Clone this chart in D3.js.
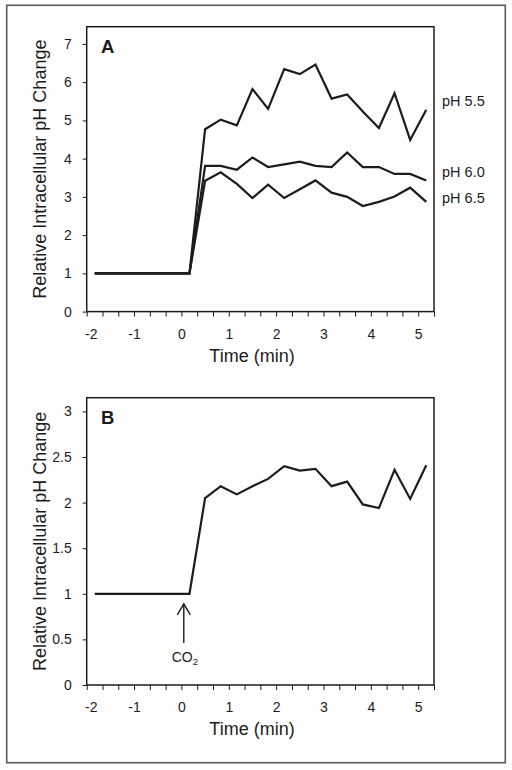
<!DOCTYPE html>
<html>
<head>
<meta charset="utf-8">
<script src="https://cdn.jsdelivr.net/npm/d3@7"></script>
<style>
  html, body { margin: 0; padding: 0; background: #fff; }
  svg { display: block; font-family: "Liberation Sans", Arial, Helvetica, sans-serif; }
</style>
</head>
<body>
<svg id="chart" width="512" height="770"></svg>
<script>
// ---------- data ----------
const times = [-1.83, 0.17, 0.5, 0.83, 1.17, 1.5, 1.83, 2.17, 2.5, 2.83, 3.17, 3.5, 3.83, 4.17, 4.5, 4.83, 5.17];
const ph55  = [1, 1, 4.77, 5.02, 4.87, 5.82, 5.30, 6.34, 6.21, 6.46, 5.57, 5.68, 5.23, 4.80, 5.71, 4.49, 5.28];
const ph60  = [1, 1, 3.81, 3.81, 3.71, 4.03, 3.78, 3.85, 3.92, 3.81, 3.78, 4.16, 3.78, 3.78, 3.60, 3.60, 3.43];
const ph65  = [1, 1, 3.42, 3.64, 3.34, 2.97, 3.32, 2.97, 3.20, 3.43, 3.11, 3.00, 2.76, 2.87, 3.01, 3.24, 2.87];
const co2   = [1, 1, 2.05, 2.18, 2.09, 2.18, 2.26, 2.40, 2.35, 2.37, 2.18, 2.23, 1.98, 1.94, 2.36, 2.04, 2.41];
const seriesNamesA = ["pH 5.5", "pH 6.0", "pH 6.5"];
const seriesLabelValuesA = [5.51, 3.64, 2.98];   // label anchor values (y) for right-hand labels
const yTicksA = [0, 1, 2, 3, 4, 5, 6, 7];
const yTicksB = [0, 0.5, 1, 1.5, 2, 2.5, 3];
const xTickLabels = [-2, -1, 0, 1, 2, 3, 4, 5];
const xMinorTicks = d3.range(0, 23).map(i => -2 + i / 3);
const co2Time = 0.05;
const co2ArrowRange = [0.46, 0.89];

// ---------- drawing ----------
const svg = d3.select("#chart");
const INK = "#1c1c1c";

svg.append("rect")
  .attr("x", 6.7).attr("y", 5.3).attr("width", 498.6).attr("height", 757.4)
  .attr("fill", "none").attr("stroke", "#5a5a5a").attr("stroke-width", 1.6);

function panel(top, bottom, yMax, yTicks, yFmt, letter) {
  const left = 86.7, right = 434;
  const x = d3.scaleLinear().domain([-2, 5 + 1/3]).range([left, right]);
  const y = d3.scaleLinear().domain([0, yMax]).range([bottom, top]);
  const g = svg.append("g");

  // x axis
  const xa = g.append("g").attr("transform", `translate(0,${bottom})`)
    .call(d3.axisBottom(x).tickValues(xMinorTicks).tickSize(5).tickSizeOuter(0).tickPadding(12)
      .tickFormat(d => {
        const r = Math.round(d);
        return (Math.abs(d - r) < 1e-6 && xTickLabels.includes(r)) ? String(r) : "";
      }));
  xa.select(".domain").remove();
  xa.selectAll("line").attr("stroke", INK).attr("stroke-width", 1);
  xa.selectAll("text").attr("font-size", 14).attr("fill", INK)
    .attr("font-family", "Liberation Sans, Arial, sans-serif")
    .attr("dx", d => Math.abs(d + 2) < 1e-6 ? 4 : 0);

  // y axis
  const ya = g.append("g").attr("transform", `translate(${left},0)`)
    .call(d3.axisLeft(y).tickValues(yTicks).tickSize(4).tickSizeOuter(0).tickPadding(11).tickFormat(yFmt));
  ya.select(".domain").remove();
  ya.selectAll("line").attr("stroke", INK).attr("stroke-width", 1);
  ya.selectAll("text").attr("font-size", 14).attr("fill", INK)
    .attr("font-family", "Liberation Sans, Arial, sans-serif");

  // frame box
  g.append("rect").attr("x", left).attr("y", top).attr("width", right - left).attr("height", bottom - top)
    .attr("fill", "none").attr("stroke", INK).attr("stroke-width", 1.5);

  // axis titles
  g.append("text").attr("x", 252).attr("y", bottom + 50).attr("text-anchor", "middle")
    .attr("font-size", 18).attr("fill", INK).text("Time (min)");
  g.append("text").attr("transform", `translate(46,${(top + bottom) / 2}) rotate(-90)`)
    .attr("text-anchor", "middle").attr("font-size", 18).attr("fill", INK)
    .text("Relative Intracellular pH Change");

  // panel letter
  g.append("text").attr("x", 101).attr("y", top + 26.5).attr("font-size", 18.5).attr("font-weight", "bold")
    .attr("fill", INK).text(letter);

  return {g, x, y};
}

const A = panel(26.7, 311.6, 7.45, yTicksA, d => String(d), "A");
const B = panel(397.7, 685, 3.15, yTicksB, d => String(d), "B");

function drawLine(p, values) {
  const line = d3.line().x((d, i) => p.x(times[i])).y(d => p.y(d));
  p.g.append("path").datum(values).attr("d", line)
    .attr("fill", "none").attr("stroke", INK).attr("stroke-width", 2.2)
    .attr("stroke-linejoin", "miter");
}

[ph65, ph60, ph55].forEach(v => drawLine(A, v));
drawLine(B, co2);

// series labels panel A
seriesNamesA.forEach((name, i) => {
  A.g.append("text").attr("x", 442).attr("y", A.y(seriesLabelValuesA[i]) + 5)
    .attr("font-size", 14.5).attr("fill", INK).text(name);
});

// CO2 arrow panel B
const ax = B.x(co2Time);
const yTip = B.y(co2ArrowRange[1]), yTail = B.y(co2ArrowRange[0]);
B.g.append("line").attr("x1", ax).attr("x2", ax).attr("y1", yTip).attr("y2", yTail)
  .attr("stroke", INK).attr("stroke-width", 1.4);
B.g.append("path")
  .attr("d", `M${ax - 6.5},${yTip + 11} L${ax},${yTip} L${ax + 6.5},${yTip + 11}`)
  .attr("fill", "none").attr("stroke", INK).attr("stroke-width", 1.4);
const co2Text = B.g.append("text").attr("x", ax + 1).attr("y", yTail + 19)
  .attr("text-anchor", "middle").attr("font-size", 14).attr("fill", INK);
co2Text.append("tspan").text("CO");
co2Text.append("tspan").attr("font-size", 9.5).attr("dy", 3).text("2");
</script>
</body>
</html>
